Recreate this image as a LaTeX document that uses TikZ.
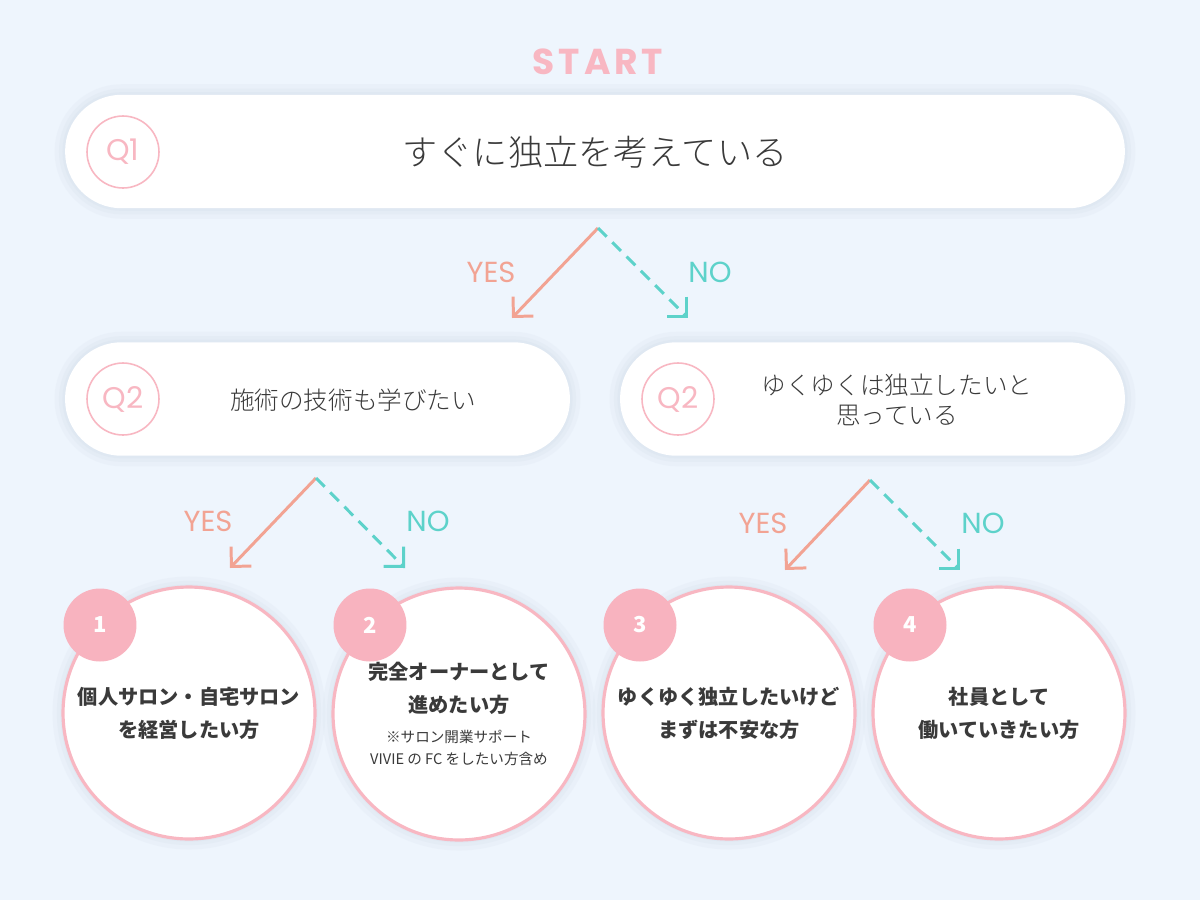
\documentclass[tikz,border=0pt]{standalone}
\usepackage{fontspec}
\setmainfont{Noto Sans CJK JP}
\IfFontExistsTF{Noto Sans CJK JP Light}
  {\newfontfamily\lightfont{Noto Sans CJK JP Light}}
  {\newfontfamily\lightfont{Noto Sans CJK JP}}
\newfontfamily\popfont{Poppins}
\newfontfamily\startfont[LetterSpace=11]{Poppins}
\newcommand\notefont{\mdseries\fontsize{8.3}{12}\selectfont}
\usetikzlibrary{arrows.meta}
\definecolor{bgblue}{HTML}{EEF5FD}
\definecolor{haloblue}{HTML}{DCE5F0}
\definecolor{rosepink}{HTML}{F8B7C2}
\definecolor{badgepink}{HTML}{F8B3BF}
\definecolor{yescol}{HTML}{F2A393}
\definecolor{nocol}{HTML}{5DD2CA}
\definecolor{textgray}{HTML}{3A3A3A}

\begin{document}
\begin{tikzpicture}[x=0.02cm, y=-0.02cm, >=Straight Barb,
  softshadow/.style={preaction={draw=haloblue, line width=12pt, draw opacity=0.25},
    preaction={draw=haloblue, line width=7pt, draw opacity=0.35},
    preaction={draw=haloblue, line width=3pt, draw opacity=0.5}},
  qbox/.style={fill=white, rounded corners=1.13cm, minimum height=2.27cm, softshadow},
  qmark/.style={circle, draw=rosepink, line width=0.9pt, minimum size=1.44cm, inner sep=0pt, text=rosepink, font=\popfont\fontsize{17}{17}\selectfont},
  qtext/.style={text=textgray, align=center},
  answer/.style={circle, draw=rosepink, fill=white, line width=1.8pt, minimum size=5.04cm, inner sep=0pt, align=center, text=textgray, font=\bfseries\fontsize{11.5}{18.7}\selectfont, softshadow},
  badge/.style={circle, fill=badgepink, minimum size=1.46cm, inner sep=0pt, text=white, font=\bfseries\fontsize{12.5}{12.5}\selectfont},
  yesarrow/.style={draw=yescol, line width=1.7pt, -{Straight Barb[length=8pt,width=16pt]}},
  noarrow/.style={yesarrow, draw=nocol, dash pattern=on 7pt off 4.5pt},
  yeslabel/.style={text=yescol, font=\popfont\fontsize{16.5}{16.5}\selectfont},
  nolabel/.style={text=nocol, font=\popfont\fontsize{16.5}{16.5}\selectfont}]

  % background
  \fill[bgblue] (0,0) rectangle (1200,900);

  \node[text=rosepink, font=\startfont\bfseries\fontsize{20.5}{20.5}\selectfont] (start) at (598,62) {START};

  % question 1
  \node[qbox, minimum width=21.2cm] (q1) at (595,151.5) {};
  \node[qmark] (q1mark) at (123,152) {Q1};
  \node[qtext, font=\lightfont\fontsize{20}{20}\selectfont] (q1text) at (595,152) {すぐに独立を考えている};

  % question 2
  \node[qbox, minimum width=10.1cm] (q2a) at (317.5,399) {};
  \node[qmark] (q2amark) at (123,399) {Q2};
  \node[qtext, font=\lightfont\fontsize{14}{17}\selectfont] (q2atext) at (353,400) {施術の技術も学びたい};

  \node[qbox, minimum width=10.1cm] (q2b) at (872.5,399) {};
  \node[qmark] (q2bmark) at (678,399) {Q2};
  \node[qtext, font=\lightfont\fontsize{14}{17}\selectfont] (q2btext) at (897,400) {ゆくゆくは独立したいと\\思っている};

  % forks
  \coordinate (f1) at (598,228);
  \coordinate (f1yes) at (512,318);
  \coordinate (f1no) at (688,318);
  \coordinate (f2) at (316,478);
  \coordinate (f2yes) at (230,568);
  \coordinate (f2no) at (405,568);
  \coordinate (f3) at (870,480);
  \coordinate (f3yes) at (785,570);
  \coordinate (f3no) at (960,570);

  \draw[yesarrow] (f1) -- (f1yes);
  \draw[noarrow] (f1) -- (f1no);
  \draw[yesarrow] (f2) -- (f2yes);
  \draw[noarrow] (f2) -- (f2no);
  \draw[yesarrow] (f3) -- (f3yes);
  \draw[noarrow] (f3) -- (f3no);

  \node[yeslabel] (yes1) at (491,272) {YES};
  \node[nolabel] (no1) at (710,272) {NO};
  \node[yeslabel] (yes2) at (208,521) {YES};
  \node[nolabel] (no2) at (428,521) {NO};
  \node[yeslabel] (yes3) at (763,523) {YES};
  \node[nolabel] (no3) at (983,523) {NO};

  % answers
  \node[answer] (a1) at (189,713) {個人サロン・自宅サロン\\を経営したい方};
  \node[answer] (a2) at (459,714) {完全オーナーとして\\進めたい方\\[-1.5pt]{\notefont ※サロン開業サポート}\\[-6.5pt]{\notefont VIVIE の FC をしたい方含め}};
  \node[answer] (a3) at (729,713) {ゆくゆく独立したいけど\\まずは不安な方};
  \node[answer] (a4) at (999,713) {社員として\\働いていきたい方};

  \node[badge] (b1) at (100,625) {1};
  \node[badge] (b2) at (370,625) {2};
  \node[badge] (b3) at (640,625) {3};
  \node[badge] (b4) at (910,625) {4};

\end{tikzpicture}
\end{document}
